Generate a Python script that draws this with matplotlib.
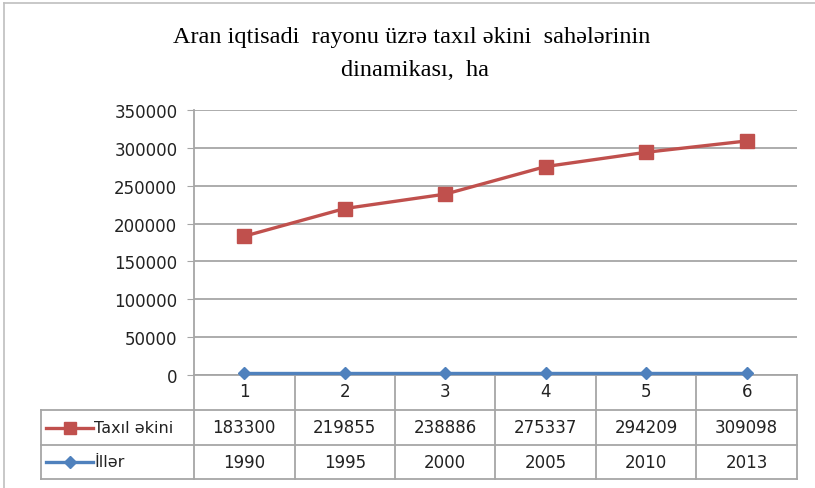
import matplotlib.pyplot as plt
from matplotlib.transforms import blended_transform_factory
from matplotlib.lines import Line2D

# data
categories = ['1', '2', '3', '4', '5', '6']
taxil = [183300, 219855, 238886, 275337, 294209, 309098]
iller = [1990, 1995, 2000, 2005, 2010, 2013]
series_names = ['Taxıl əkini', 'İllər']
yticks = [0, 50000, 100000, 150000, 200000, 250000, 300000, 350000]

red = '#C0504D'
blue = '#4F81BD'
grid = '#A6A6A6'
fs = 12

W, H = 815, 489
fig = plt.figure(figsize=(W / 100, H / 100), dpi=100)

# outer chart border (top and left visible only)
fig.add_artist(Line2D([4 / W, 1], [1 - 4 / H, 1 - 4 / H], transform=fig.transFigure,
                      color='#BFBFBF', lw=1.2))
fig.add_artist(Line2D([4 / W, 4 / W], [0, 1 - 4 / H], transform=fig.transFigure,
                      color='#BFBFBF', lw=1.2))

L, R, T, B = 194, 797, 111, 376
ax = fig.add_axes([L / W, 1 - B / H, (R - L) / W, (B - T) / H])

x = list(range(len(categories)))
ax.plot(x, taxil, color=red, lw=2.4, marker='s', ms=10, mec=red, mfc=red, clip_on=False, zorder=3)
ax.plot(x, iller, color=blue, lw=2.4, marker='D', ms=6.5, mec=blue, mfc=blue, clip_on=False, zorder=3)

ax.set_xlim(-0.5, len(categories) - 0.5)
ax.set_ylim(0, 350000)
ax.set_yticks(yticks)
ax.set_yticklabels([str(v) for v in yticks], fontsize=fs, color='#222222')
ax.yaxis.grid(True, color=grid, lw=1.3)
ax.set_axisbelow(True)
ax.tick_params(axis='y', length=5, color=grid, pad=7)
ax.set_xticks(x)
ax.set_xticklabels(categories, fontsize=fs, color='#222222')
ax.tick_params(axis='x', length=0, pad=5)
for s in ['top', 'right']:
    ax.spines[s].set_visible(False)
ax.spines['left'].set_color(grid)
ax.spines['left'].set_linewidth(1.3)
ax.spines['bottom'].set_color(grid)
ax.spines['bottom'].set_linewidth(1.3)

# data table below the axes
h = B - T
r1 = (B - 411) / h
r2 = (B - 446) / h
r3 = (B - 480) / h
leg_left = (41 - L) / (R - L)
bt = blended_transform_factory(ax.transData, ax.transAxes)
lk = dict(color=grid, lw=1.3, clip_on=False)

for xb in [i - 0.5 for i in range(len(categories) + 1)]:
    ax.plot([xb, xb], [0, r3], transform=bt, **lk)
for yy in [r1, r2, r3]:
    ax.plot([leg_left, 1], [yy, yy], transform=ax.transAxes, **lk)
ax.plot([leg_left, leg_left], [r1, r3], transform=ax.transAxes, **lk)

rows = [taxil, iller]
cols = [red, blue]
marks = [('s', 8), ('D', 6)]
for k, (vals, c, (m, ms)) in enumerate(zip(rows, cols, marks)):
    yc = (r1 + r2) / 2 if k == 0 else (r2 + r3) / 2
    for i, v in enumerate(vals):
        ax.text(i, yc, str(v), transform=bt, ha='center', va='center', fontsize=fs, color='#222222')
    kx0 = (46 - L) / (R - L)
    kx1 = (93 - L) / (R - L)
    ax.plot([kx0, (kx0 + kx1) / 2, kx1], [yc] * 3, transform=ax.transAxes, color=c, lw=2.4,
            marker=m, ms=ms, markevery=[1], clip_on=False)
    ax.text((94 - L) / (R - L), yc, series_names[k], transform=ax.transAxes, ha='left',
            va='center', fontsize=fs - 0.5, color='#222222')

fig.text(412 / W, 1 - 38 / H, 'Aran iqtisadi  rayonu üzrə taxıl əkini  sahələrinin',
         ha='center', va='center', fontsize=17.5, family='Liberation Serif')
fig.text(415 / W, 1 - 70 / H, 'dinamikası,  ha',
         ha='center', va='center', fontsize=17.5, family='Liberation Serif')

fig.savefig('out.png', dpi=100)
